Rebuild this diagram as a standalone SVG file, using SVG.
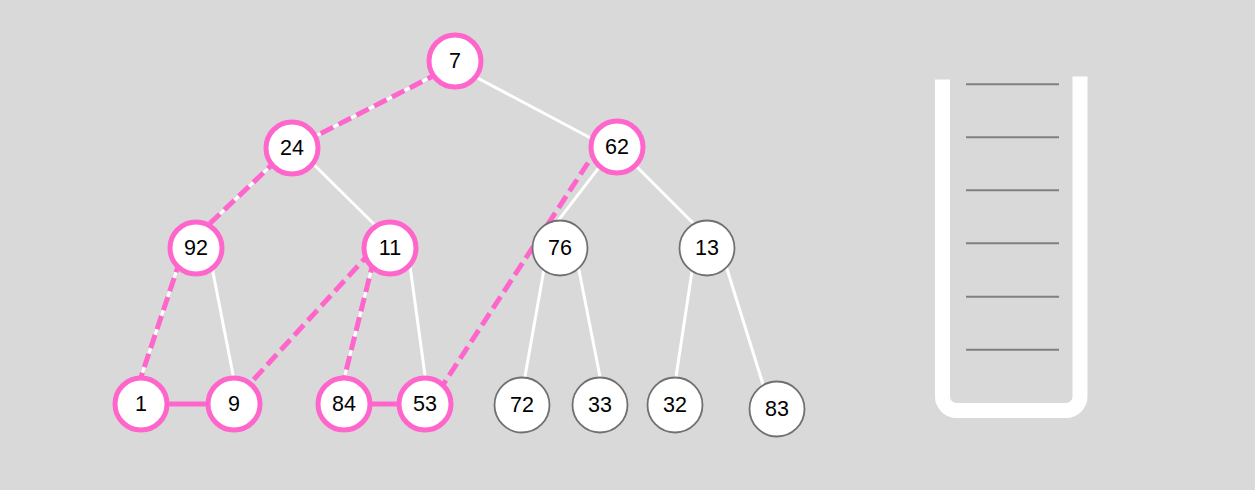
<svg xmlns="http://www.w3.org/2000/svg" width="1255" height="490" viewBox="0 0 1255 490">
<style>
.edge{stroke:#ffffff;stroke-width:3;fill:none}
.path{stroke:#ff66cc;stroke-width:5;fill:none;stroke-dasharray:14 6}
.solid{stroke:#ff66cc;stroke-width:5;fill:none}
.hn circle{fill:#ffffff;stroke:#ff66cc;stroke-width:5}
.nn circle{fill:#ffffff;stroke:#707070;stroke-width:1.8}
text{font-family:"Liberation Sans",Arial,sans-serif;font-size:21.5px;fill:#000;text-anchor:middle;dominant-baseline:central}
.tick{stroke:#808080;stroke-width:2}
</style>
<rect width="1255" height="490" fill="#d9d9d9"/>
<g id="connectors">
<line class="edge" x1="440" y1="72.4" x2="310" y2="139"/>
<line class="edge" x1="470" y1="74" x2="600" y2="143"/>
<line class="edge" x1="278" y1="159" x2="204" y2="229"/>
<line class="edge" x1="308" y1="158.8" x2="381" y2="231"/>
<line class="edge" x1="605" y1="159.6" x2="553" y2="227.4"/>
<line class="edge" x1="630" y1="160" x2="700" y2="230"/>
<line class="edge" x1="180.5" y1="259" x2="139" y2="383"/>
<line class="edge" x1="210" y1="257" x2="236" y2="390"/>
<line class="edge" x1="374" y1="259" x2="343" y2="383"/>
<line class="edge" x1="408.5" y1="255" x2="427" y2="390"/>
<line class="edge" x1="546" y1="258" x2="522.6" y2="390"/>
<line class="edge" x1="576.5" y1="257.5" x2="602.6" y2="390"/>
<line class="edge" x1="694" y1="258" x2="674" y2="390"/>
<line class="edge" x1="722.6" y1="255" x2="767" y2="397"/>
<line class="path" x1="440" y1="72.4" x2="310" y2="139"/>
<line class="path" x1="278" y1="159" x2="204" y2="229"/>
<line class="path" x1="180.5" y1="259" x2="139" y2="383"/>
<line class="path" x1="374" y1="259" x2="343" y2="383"/>
<line class="path" x1="371.4" y1="251.3" x2="245" y2="389"/>
<line class="path" x1="599" y1="146" x2="441" y2="388"/>
<line class="solid" x1="141" y1="404" x2="234" y2="404"/>
<line class="solid" x1="344" y1="404" x2="425" y2="404"/>
</g>
<g id="n7" class="hn"><circle cx="455" cy="61" r="26"/><text x="455" y="61">7</text></g>
<g id="n24" class="hn"><circle cx="292" cy="148" r="26"/><text x="292" y="148">24</text></g>
<g id="n62" class="hn"><circle cx="617" cy="147" r="26"/><text x="617" y="147">62</text></g>
<g id="n92" class="hn"><circle cx="196" cy="248" r="26"/><text x="196" y="248">92</text></g>
<g id="n11" class="hn"><circle cx="390" cy="248" r="26"/><text x="390" y="248">11</text></g>
<g id="n76" class="nn"><circle cx="560" cy="248" r="27.5"/><text x="560" y="248">76</text></g>
<g id="n13" class="nn"><circle cx="707" cy="248" r="27.5"/><text x="707" y="248">13</text></g>
<g id="n1" class="hn"><circle cx="141" cy="404" r="26"/><text x="141" y="404">1</text></g>
<g id="n9" class="hn"><circle cx="234" cy="404" r="26"/><text x="234" y="404">9</text></g>
<g id="n84" class="hn"><circle cx="344" cy="404" r="26"/><text x="344" y="404">84</text></g>
<g id="n53" class="hn"><circle cx="425" cy="404" r="26"/><text x="425" y="404">53</text></g>
<g id="n72" class="nn"><circle cx="522" cy="405" r="27.5"/><text x="522" y="405">72</text></g>
<g id="n33" class="nn"><circle cx="600" cy="405" r="27.5"/><text x="600" y="405">33</text></g>
<g id="n32" class="nn"><circle cx="675" cy="405" r="27.5"/><text x="675" y="405">32</text></g>
<g id="n83" class="nn"><circle cx="777" cy="409" r="27.5"/><text x="777" y="409">83</text></g>
<g id="stack">
<path d="M942.5 79.5 V396 A14 14 0 0 0 956.5 410.5 H1066 A14 14 0 0 0 1080 396 V76.5" fill="none" stroke="#ffffff" stroke-width="15"/>
<line class="tick" x1="966" y1="84.3" x2="1059" y2="84.3"/>
<line class="tick" x1="966" y1="137.3" x2="1059" y2="137.3"/>
<line class="tick" x1="966" y1="190.3" x2="1059" y2="190.3"/>
<line class="tick" x1="966" y1="243.3" x2="1059" y2="243.3"/>
<line class="tick" x1="966" y1="296.7" x2="1059" y2="296.7"/>
<line class="tick" x1="966" y1="349.7" x2="1059" y2="349.7"/>
</g>
</svg>
